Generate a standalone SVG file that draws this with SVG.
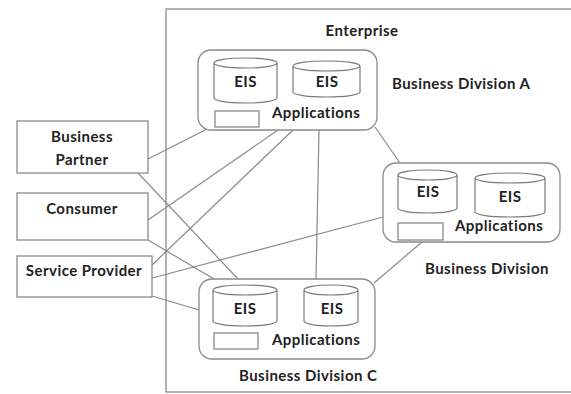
<svg xmlns="http://www.w3.org/2000/svg" width="571" height="394" viewBox="0 0 571 394">
  <style>
    .bg { fill: #ffffff; }
    .frame { fill: none; stroke: #8a8a8a; stroke-width: 1.3; }
    .div { fill: #ffffff; stroke: #8a8a8a; stroke-width: 1.3; }
    .box { fill: #ffffff; stroke: #8a8a8a; stroke-width: 1.3; }
    .cyl { fill: #ffffff; stroke: #7a7a7a; stroke-width: 1.2; }
    .link { fill: none; stroke: #8a8a8a; stroke-width: 1.2; }
    text { font-family: "Lato", "Open Sans", "Liberation Sans", sans-serif; font-weight: bold; font-size: 15px; letter-spacing: 0.45px; fill: #222222; }
    .c { text-anchor: middle; }
  </style>

  <rect class="bg" x="0" y="0" width="571" height="394"/>

  <!-- Enterprise boundary -->
  <g id="enterprise">
    <rect class="frame" x="166" y="9" width="420" height="383"/>
    <text class="c" x="362" y="36">Enterprise</text>
  </g>

  <!-- connectors -->
  <g id="connectors">
    <line class="link" x1="148" y1="159" x2="207" y2="129"/>
    <line class="link" x1="138" y1="173" x2="238" y2="279"/>
    <line class="link" x1="148" y1="220" x2="278" y2="130"/>
    <line class="link" x1="148" y1="240" x2="214" y2="279"/>
    <line class="link" x1="152" y1="265" x2="293" y2="130"/>
    <line class="link" x1="152" y1="278" x2="383" y2="217"/>
    <line class="link" x1="152" y1="296" x2="199" y2="310"/>
    <line class="link" x1="319" y1="130" x2="316" y2="279"/>
    <line class="link" x1="375" y1="127" x2="400" y2="163"/>
    <line class="link" x1="422" y1="242" x2="374" y2="283"/>
  </g>

  <!-- external parties -->
  <g id="business-partner">
    <rect class="box" x="17" y="121" width="131" height="52"/>
    <text class="c" x="82" y="142">Business</text>
    <text class="c" x="82" y="165">Partner</text>
  </g>
  <g id="consumer">
    <rect class="box" x="17" y="193" width="131" height="47"/>
    <text class="c" x="82" y="214">Consumer</text>
  </g>
  <g id="service-provider">
    <rect class="box" x="17" y="256" width="135" height="41"/>
    <text class="c" x="84" y="276">Service Provider</text>
  </g>

  <!-- Business Division A -->
  <g id="division-a">
    <rect class="div" x="198" y="50" width="179" height="80" rx="13"/>
    <path class="cyl" d="M214,63 V98 A31.5,5 0 0 0 277,98 V63 A31.5,5 0 0 0 214,63 A31.5,5 0 0 0 277,63"/>
    <text class="c" x="245.5" y="87">EIS</text>
    <path class="cyl" d="M293,66 V92 A33.5,5 0 0 0 360,92 V66 A33.5,5 0 0 0 293,66 A33.5,5 0 0 0 360,66"/>
    <text class="c" x="327" y="87">EIS</text>
    <rect class="box" x="215" y="111" width="44" height="16"/>
    <text x="272" y="118">Applications</text>
    <text x="392" y="89">Business Division A</text>
  </g>

  <!-- Business Division (right) -->
  <g id="division-b">
    <rect class="div" x="383" y="163" width="177" height="79" rx="13"/>
    <path class="cyl" d="M398,175 V208 A29.5,5 0 0 0 457,208 V175 A29.5,5 0 0 0 398,175 A29.5,5 0 0 0 457,175"/>
    <text class="c" x="428" y="197">EIS</text>
    <path class="cyl" d="M475,178 V212 A35,5 0 0 0 545,212 V178 A35,5 0 0 0 475,178 A35,5 0 0 0 545,178"/>
    <text class="c" x="510" y="202">EIS</text>
    <rect class="box" x="398" y="223" width="45" height="17"/>
    <text x="455" y="231">Applications</text>
    <text x="425" y="274">Business Division</text>
  </g>

  <!-- Business Division C -->
  <g id="division-c">
    <rect class="div" x="199" y="279" width="176" height="80" rx="13"/>
    <path class="cyl" d="M213,290 V321 A32,5 0 0 0 277,321 V290 A32,5 0 0 0 213,290 A32,5 0 0 0 277,290"/>
    <text class="c" x="245" y="314">EIS</text>
    <path class="cyl" d="M304,290 V321 A27,5 0 0 0 358,321 V290 A27,5 0 0 0 304,290 A27,5 0 0 0 358,290"/>
    <text class="c" x="332" y="314">EIS</text>
    <rect class="box" x="214" y="333" width="44" height="16"/>
    <text x="272" y="345">Applications</text>
    <text x="239" y="381">Business Division C</text>
  </g>
</svg>
